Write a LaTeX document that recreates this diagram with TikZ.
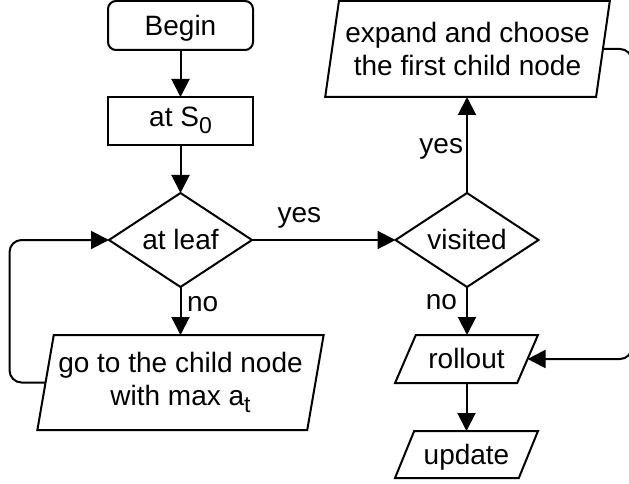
\documentclass[tikz,border=0pt]{standalone}
\usepackage{fontspec}
\setmainfont{Liberation Sans}
\usetikzlibrary{shapes.geometric,arrows.meta}
\newcommand\lowsub[1]{\raisebox{-7pt}{\fontsize{23}{23}\selectfont #1}}
\begin{document}
\begin{tikzpicture}[x=1pt,y=-1pt,
  every node/.style={font=\fontsize{28}{33}\selectfont},
  base/.style={draw, line width=2pt, inner sep=2pt, outer sep=0pt},
  oneline/.style={text height=25.3pt, text depth=5.9pt},
  startbox/.style={base, oneline, rounded corners=8pt, minimum width=145pt, minimum height=49pt},
  procbox/.style={base, minimum width=145pt, minimum height=48pt},
  decision/.style={base, oneline, diamond, aspect=1.5, minimum width=143pt, minimum height=94pt, inner sep=0pt},
  io/.style={base, trapezium, trapezium stretches=true},
  arr/.style={line width=2pt, -{Triangle[length=18pt,width=18pt]}},
  loopline/.style={arr, rounded corners=12pt},
  lbl/.style={inner sep=0pt}]
\useasboundingbox (0,0) rectangle (629,484);

\node[startbox] (begin) at (180.5,25.5) {Begin};
\node[procbox, text height=25.3pt, text depth=13.3pt] (s0) at (180.5,121) {at S\lowsub{0}};
\node[decision] (leaf) at (180.5,240) {at leaf};
\node[io, align=center, trapezium left angle=76, trapezium right angle=104,
      minimum width=287pt, minimum height=95pt] (go) at (180.5,382.5)
      {go to the child node\\with max a\lowsub{t}};
\node[decision] (visited) at (467,240) {visited};
\node[io, align=center, trapezium left angle=77, trapezium right angle=103,
      minimum width=285pt, minimum height=96pt] (expand) at (467.5,49)
      {expand and choose\\the first child node};
\node[io, oneline, trapezium left angle=65, trapezium right angle=115,
      minimum width=143pt, minimum height=48pt] (rollout) at (466.5,359) {rollout};
\node[io, oneline, trapezium left angle=65, trapezium right angle=115,
      minimum width=143pt, minimum height=47pt] (update) at (466.5,454.5) {update};

\draw[arr] (begin) -- (s0);
\draw[arr] (s0) -- (leaf);
\draw[arr] (leaf.south) -- node[lbl, pos=0.35, anchor=west, xshift=5.5pt] {no} (leaf.south |- go.top side);
\draw[arr] (leaf.east) -- node[lbl, pos=0.33, anchor=south, yshift=10.8pt] {yes} (visited.west);
\draw[arr] (visited.north) -- node[lbl, pos=0.46, anchor=east, xshift=-3pt] {yes} (visited.north |- expand.bottom side);
\draw[arr] (visited.south) -- node[lbl, pos=0.32, anchor=east, xshift=-9pt] {no} (visited.south |- rollout.top side);
\draw[arr] (rollout.center |- rollout.bottom side) -- (update.center |- update.top side);
\draw[loopline] (go.left side) -- ++(-36,0) |- (leaf.west);
\draw[loopline] (expand.right side) -- ++(29,0) |- (rollout.right side);
\end{tikzpicture}
\end{document}
